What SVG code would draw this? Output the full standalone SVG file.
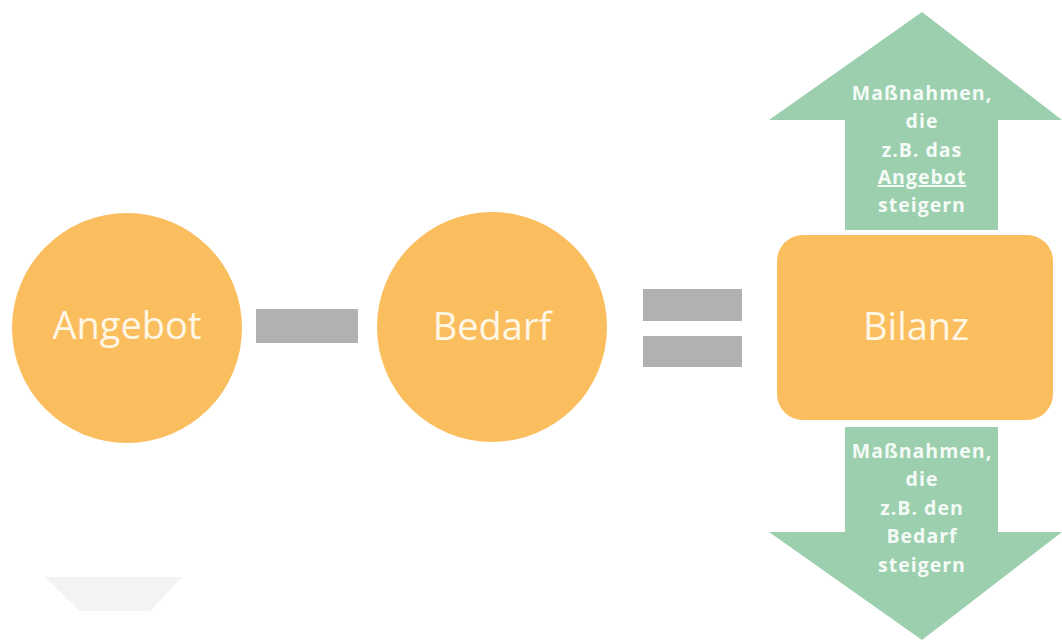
<svg xmlns="http://www.w3.org/2000/svg" width="1062" height="640" viewBox="0 0 1062 640">
<style>
.orange{fill:#FBBE5E}
.green{fill:#9BCFAE}
.gray{fill:#B1B1B1}
.big{font-family:"Open Sans","Noto Sans",sans-serif;font-size:38px;fill:#FFF7E6;text-anchor:middle}
.small{font-family:"Open Sans","Noto Sans",sans-serif;font-size:19.5px;font-weight:bold;letter-spacing:1px;fill:#F4FBF6;text-anchor:middle}
</style>
<rect width="1062" height="640" fill="#FFFFFF"/>
<polygon points="45,577 182,577 150,611 80,611" fill="#F3F3F3"/>
<g id="angebot">
<circle class="orange" cx="127" cy="328" r="115"/>
<text class="big" x="127" y="339">Angebot</text>
</g>
<g id="bedarf">
<circle class="orange" cx="492" cy="327" r="115"/>
<text class="big" x="492" y="340">Bedarf</text>
</g>
<g id="operators">
<rect class="gray" x="256" y="309" width="102" height="34"/>
<rect class="gray" x="643" y="289" width="99" height="32"/>
<rect class="gray" x="643" y="336" width="99" height="31"/>
</g>
<g id="arrow-up">
<polygon class="green" points="922,12 1062,120 998,120 998,230 845,230 845,120 769,120"/>
<text class="small" x="922" y="100">Maßnahmen,</text>
<text class="small" x="922" y="128">die</text>
<text class="small" x="922" y="157">z.B. das</text>
<text class="small" x="922" y="184" text-decoration="underline">Angebot</text>
<text class="small" x="922" y="212">steigern</text>
</g>
<g id="bilanz">
<rect class="orange" x="777" y="235" width="276" height="185" rx="26"/>
<text class="big" x="916" y="340">Bilanz</text>
</g>
<g id="arrow-down">
<polygon class="green" points="845,427 998,427 998,532 1062,532 922,640 769,532 845,532"/>
<text class="small" x="922" y="458">Maßnahmen,</text>
<text class="small" x="922" y="486">die</text>
<text class="small" x="922" y="515">z.B. den</text>
<text class="small" x="922" y="543">Bedarf</text>
<text class="small" x="922" y="572">steigern</text>
</g>
<g id="connectors"/>
</svg>
